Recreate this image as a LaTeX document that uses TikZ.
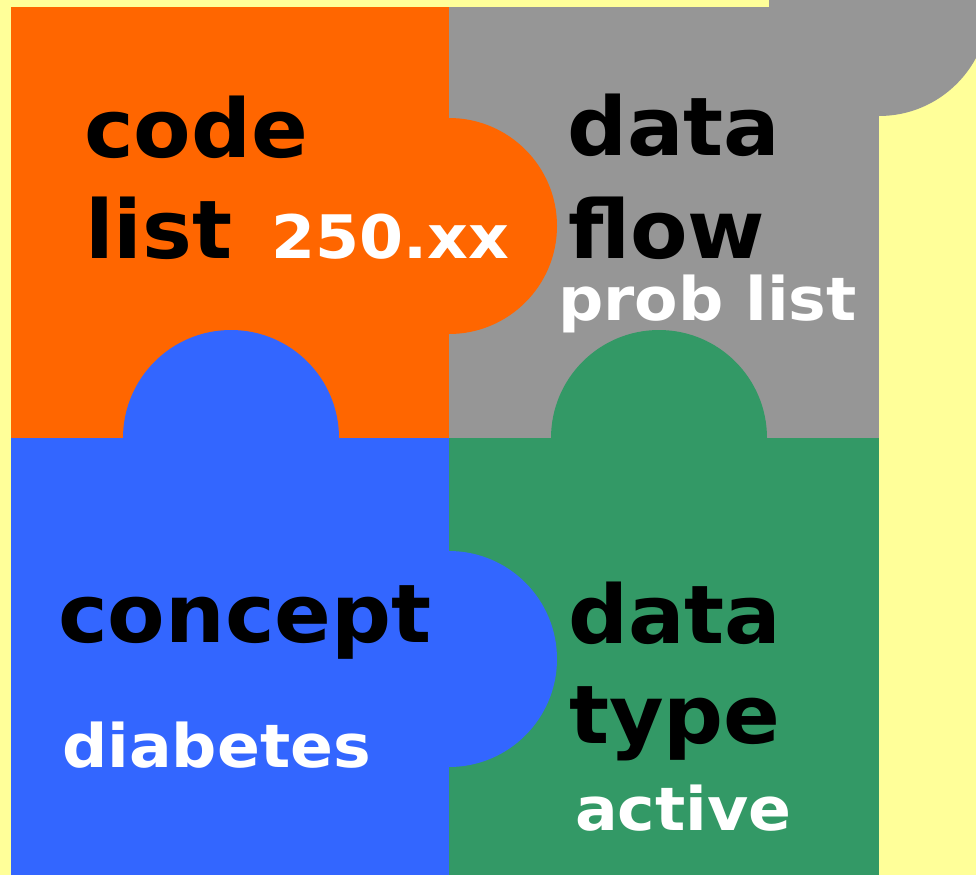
\documentclass[tikz,border=0pt]{standalone}
\usepackage{fontspec}
\setmainfont{DejaVu Sans}
\newfontfamily\bigface[FakeStretch=1.035]{DejaVu Sans}
\newfontfamily\smallface[FakeStretch=1.055]{DejaVu Sans}
\usepackage{tikz}
\usetikzlibrary{positioning}
\definecolor{paper}{HTML}{FFFF99}
\definecolor{codeorange}{HTML}{FF6600}
\definecolor{flowgray}{HTML}{969696}
\definecolor{conceptblue}{HTML}{3366FF}
\definecolor{typegreen}{HTML}{339966}
\tikzset{
  piece/.style     = { draw=none },
  word/.style      = { anchor=base west, inner sep=0pt, outer sep=0pt },
  bigword/.style   = { word, font=\bigface\fontsize{81}{81}\selectfont\bfseries, text=black },
  smallword/.style = { word, font=\smallface\fontsize{60}{60}\selectfont\bfseries, text=white },
}

\begin{document}
\begin{tikzpicture}[x=1pt,y=-1pt]
  \useasboundingbox (0,0) rectangle (976,875);
  \clip (0,0) rectangle (976,875);
  \fill [paper] (0,0) rectangle (976,875);

  % puzzle pieces, back to front
  \fill [piece,flowgray]    (449,7) rectangle (879,438);
  \fill [piece,flowgray]    (879,6) circle [radius=110];
  \fill [piece,codeorange]  (11,7) rectangle (449,438);
  \fill [piece,codeorange]  (449,226) circle [radius=108];
  \fill [piece,typegreen]   (449,438) rectangle (879,875);
  \fill [piece,typegreen]   (659,438) circle [radius=108];
  \fill [piece,conceptblue] (11,438) rectangle (449,875);
  \fill [piece,conceptblue] (231,438) circle [radius=108];
  \fill [piece,conceptblue] (449,659) circle [radius=108];

  % labels
  \node (code)     [bigword]   at (84,157)  {code};
  \node (list)     [bigword]   at (85,258)  {list};
  \node (icd)      [smallword] at (271,258) {250.xx};

  \node (data)     [bigword]   at (567,155) {data};
  \node (flow)     [bigword]   at (568,258) {flow};
  \node (problist) [smallword] at (558,320) {prob list};

  \node (concept)  [bigword]   at (58,642)  {concept};
  \node (diabetes) [smallword] at (62,767)  {diabetes};

  \node (datab)    [bigword]   at (568,643) {data};
  \node (type)     [bigword]   at (569,743) {type};
  \node (active)   [smallword] at (575,830) {active};
\end{tikzpicture}
\end{document}
